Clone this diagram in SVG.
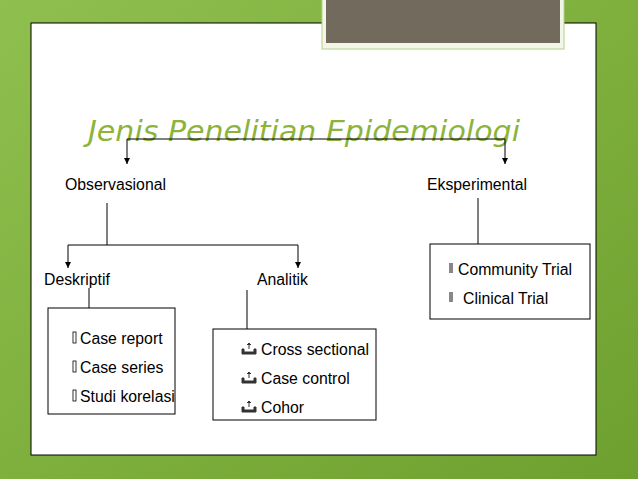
<svg xmlns="http://www.w3.org/2000/svg" width="638" height="479" viewBox="0 0 638 479">
<defs>
<linearGradient id="bg" x1="0" y1="0" x2="1" y2="1"><stop offset="0" stop-color="#8fbf4e"/><stop offset="0.5" stop-color="#7fb03e"/><stop offset="1" stop-color="#6ea02f"/></linearGradient>
<marker id="ar" markerWidth="6" markerHeight="6" refX="6" refY="3" orient="auto" markerUnits="userSpaceOnUse"><path d="M0,0 L6,3 L0,6 Z" fill="#000"/></marker>
<style>
.t{font-family:"Liberation Sans",Arial,sans-serif;font-size:15.8px;fill:#000}
.b{fill:#fff;stroke:#000;stroke-width:1}
.c{fill:none;stroke:#000;stroke-width:1}
.ic{fill:#333}
</style>
</defs>
<rect width="638" height="479" fill="url(#bg)"/>
<rect x="31" y="23" width="565" height="432" fill="#fff" stroke="#000" stroke-width="1"/>
<rect x="322" y="-2" width="242" height="51" fill="#f2f6e8" stroke="#b8d08a"/>
<rect x="326" y="0" width="234" height="43" fill="#726a5c"/>
<text x="88" y="141" font-family="'Century Gothic','DejaVu Sans',sans-serif" font-style="italic" font-size="28" textLength="432" lengthAdjust="spacingAndGlyphs" fill="#8db33a" font-weight="300">Jenis Penelitian Epidemiologi</text>
<g id="connectors">
<path class="c" d="M127,139 H505"/>
<path class="c" d="M127,139 V164" marker-end="url(#ar)"/>
<path class="c" d="M505,139 V164" marker-end="url(#ar)"/>
<path class="c" d="M107,203 V245 M68,245 H298"/>
<path class="c" d="M68,245 V268" marker-end="url(#ar)"/>
<path class="c" d="M298,245 V268" marker-end="url(#ar)"/>
<path class="c" d="M89,288 V308"/>
<path class="c" d="M247,290 V329"/>
<path class="c" d="M478,198 V244"/>
</g>
<g id="observasional"><text class="t" x="65" y="190">Observasional</text></g>
<g id="eksperimental"><text class="t" x="427" y="190">Eksperimental</text></g>
<g id="deskriptif"><text class="t" x="44" y="285">Deskriptif</text></g>
<g id="analitik"><text class="t" x="257" y="285">Analitik</text></g>
<g id="deskriptif-box">
<rect class="b" x="48" y="308" width="127" height="106"/>
<g fill="none" stroke="#000" stroke-width="0.8"><rect x="73" y="332" width="3" height="11"/><rect x="73" y="361" width="3" height="11"/><rect x="73" y="390" width="3" height="11"/></g>
<text class="t" x="80" y="344">Case report</text>
<text class="t" x="80" y="373">Case series</text>
<text class="t" x="80" y="402">Studi korelasi</text>
</g>
<g id="analitik-box">
<rect class="b" x="213" y="329" width="163" height="91"/>
<g class="ic"><path d="M242,349 v5 h14 v-5 h-2 v3 h-10 v-3z M249,343 v6 M247,345 l2,-2 l2,2" stroke="#333" stroke-width="1"/><path d="M242,378 v5 h14 v-5 h-2 v3 h-10 v-3z M249,372 v6 M247,374 l2,-2 l2,2" stroke="#333" stroke-width="1"/><path d="M242,407 v5 h14 v-5 h-2 v3 h-10 v-3z M249,401 v6 M247,403 l2,-2 l2,2" stroke="#333" stroke-width="1"/></g>
<text class="t" x="261" y="355">Cross sectional</text>
<text class="t" x="261" y="384">Case control</text>
<text class="t" x="261" y="413">Cohor</text>
</g>
<g id="eksperimental-box">
<rect class="b" x="430" y="244" width="160" height="75"/>
<rect x="449" y="263" width="4" height="10" fill="#888"/>
<rect x="449" y="292" width="4" height="10" fill="#888"/>
<text class="t" x="458" y="275">Community Trial</text>
<text class="t" x="463" y="304">Clinical Trial</text>
</g>
</svg>
